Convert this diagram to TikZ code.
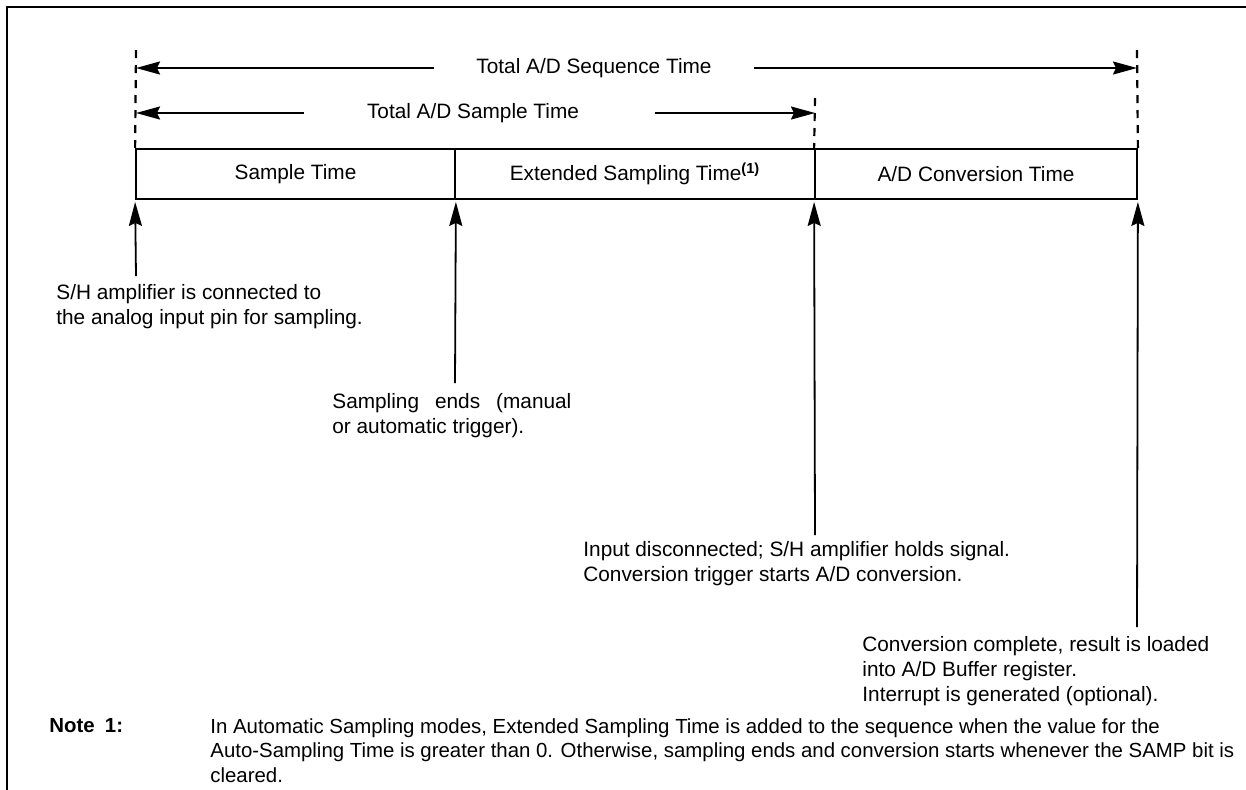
\documentclass[tikz,border=0pt]{standalone}
\usepackage{fontspec}
\setmainfont{Liberation Sans}
\usetikzlibrary{arrows.meta}

\begin{document}
\begin{tikzpicture}[x=0.5pt,y=-0.5pt,
  txt/.style={font=\fontsize{10.4}{12.5}\selectfont,inner sep=0pt},
  cell/.style={txt,draw,line width=0.9pt,minimum height=25pt},
  callout/.style={txt,align=left,anchor=north west},
  tick/.style={line width=1.1pt,dash pattern=on 4pt off 3.5pt},
  span/.style={line width=0.9pt,-{Stealth[length=12pt,width=6.5pt,inset=1.5pt]}}]
\useasboundingbox (0,0) rectangle (1246,789);
\draw[line width=1pt] (7,800) -- (7,6.5) -- (1260,6.5);
  \foreach \nm/\xa/\xb/\lbl in {samp/136/455/{Sample Time},ext/455/815/{Extended Sampling Time\textsuperscript{\bfseries(1)}},conv/815/1137/{A/D Conversion Time}}
  {  \node [cell,minimum width=(\xb-\xa)*0.5pt] (\nm) at ({(\xa+\xb)/2},174) {\lbl};}
\coordinate (tkL) at (136,50);
\coordinate (tkM) at (815,98);
\coordinate (tkR) at (1137,50);
\draw[tick] (tkL) -- (samp.north west);
\draw[tick] (tkM) -- (conv.north west);
\draw[tick] (tkR) -- (conv.north east);
\node[txt,inner xsep=21pt] (seq) at (594,68) {Total A/D Sequence Time};
\draw[span] (seq.west) -- (seq.west -| tkL);
\draw[span] (seq.east) -- (seq.east -| tkR);
\node[txt] (smp) at (473,113) {Total A/D Sample Time};
\draw[span] ([xshift=-31.5pt]smp.west) -- (smp.west -| tkL);
\draw[span] ([xshift=38pt]smp.east) -- (smp.east -| tkM);
\coordinate (upA) at (136,276);
\coordinate (upB) at (455,383);
\coordinate (upC) at (815,535);
\coordinate (upD) at (1137,627);
\draw[span,shorten >=1pt] (upA) -- (samp.south west);
\draw[span,shorten >=1pt] (upB) -- (samp.south east);
\draw[span,shorten >=1pt] (upC) -- (conv.south west);
\draw[span,shorten >=1pt] (upD) -- (conv.south east);
\node[callout] (shA) at (56,284) {S/H amplifier is connected to\\the analog input pin for sampling.};
\node[callout] (endB) at (332,393) {\makebox[119.5pt][s]{Sampling ends (manual}\\or automatic trigger).};
\node[callout] (inC) at (583,541) {Input disconnected; S/H amplifier holds signal.\\Conversion trigger starts A/D conversion.};
\node[callout] (doneD) at (862,636) {Conversion complete, result is loaded\\into A/D Buffer register.\\Interrupt is generated (optional).};
\node[callout,font=\fontsize{10.2}{12.3}\selectfont\bfseries] (notehd) at (49,718) {Note\enspace 1:};
\node[callout,font=\fontsize{10.2}{12.3}\selectfont] (notetx) at (210,718) {In Automatic Sampling modes, Extended Sampling Time is added to the sequence when the value for the\\Auto-Sampling Time is greater than 0. Otherwise, sampling ends and conversion starts whenever the SAMP bit is\\cleared.};
\end{tikzpicture}
\end{document}
